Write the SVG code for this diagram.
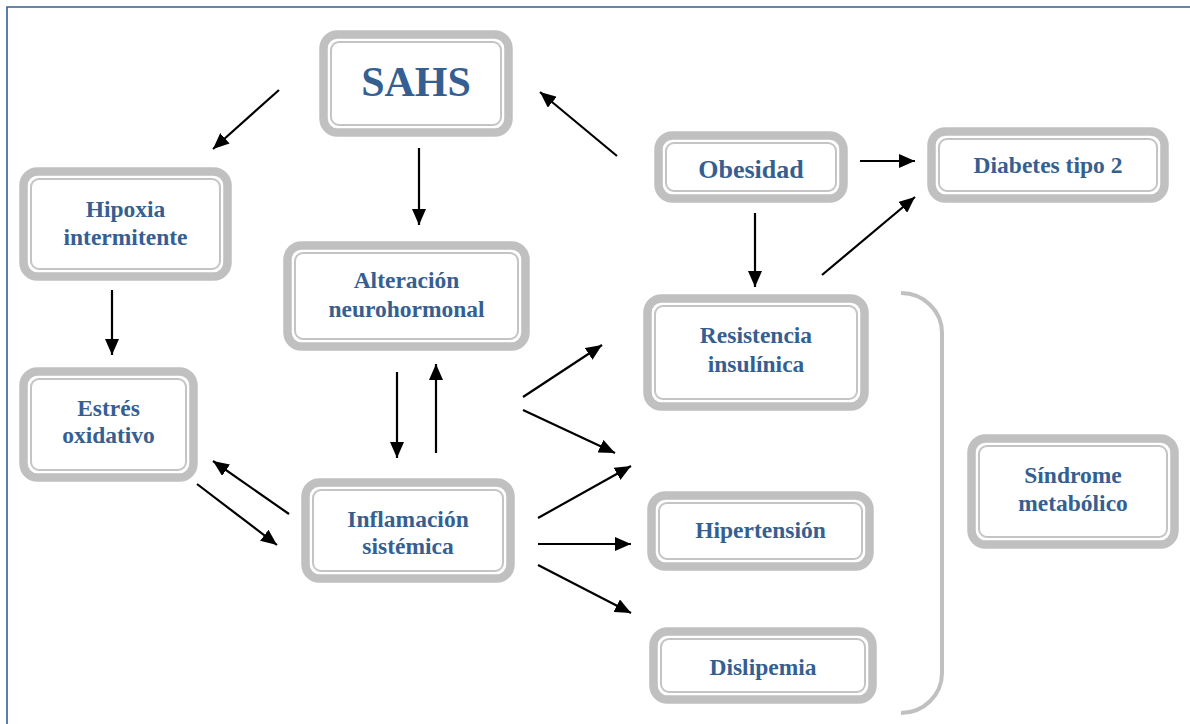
<svg xmlns="http://www.w3.org/2000/svg" width="1190" height="724" viewBox="0 0 1190 724">
<style>
.o{fill:#fff;stroke:#c0c0c0;stroke-width:8.5}
.i{fill:none;stroke:#c4c4c4;stroke-width:2}
.t{font-family:"Liberation Serif","Times New Roman",serif;font-weight:bold;fill:#365f91;text-anchor:middle;font-size:23.5px}
.c line{stroke:#000;stroke-width:2.2;marker-end:url(#ah)}
</style>
<defs>
<marker id="ah" markerUnits="userSpaceOnUse" markerWidth="16" markerHeight="14" refX="16" refY="7" orient="auto">
<path d="M0,0 L16,7 L0,14 z" fill="#000"/>
</marker>
</defs>
<rect width="1190" height="724" fill="#fff"/>
<path d="M7,724 V7 H1190" fill="none" stroke="#365f91" stroke-width="1.6"/>
<path d="M901,293 A41,40 0 0 1 942,333 V673 A41,40 0 0 1 901,713" fill="none" stroke="#c0c0c0" stroke-width="4"/>

<g id="sahs"><rect class="o" x="323.5" y="34.5" width="185" height="98" rx="14"/><rect class="i" x="331" y="42" width="170" height="83" rx="8"/><text class="t" x="416" y="96" style="font-size:42px">SAHS</text></g>
<g id="hipoxia"><rect class="o" x="23.5" y="171.5" width="204" height="105" rx="14"/><rect class="i" x="31" y="179" width="189" height="90" rx="8"/><text class="t" x="125.5" y="217">Hipoxia</text><text class="t" x="125.5" y="245">intermitente</text></g>
<g id="estres"><rect class="o" x="23.5" y="371.5" width="170" height="106" rx="14"/><rect class="i" x="31" y="379" width="155" height="91" rx="8"/><text class="t" x="108.5" y="416">Estrés</text><text class="t" x="108.5" y="443">oxidativo</text></g>
<g id="alteracion"><rect class="o" x="287.5" y="245.5" width="238" height="101" rx="14"/><rect class="i" x="295" y="253" width="223" height="86" rx="8"/><text class="t" x="406.5" y="288">Alteración</text><text class="t" x="406.5" y="317">neurohormonal</text></g>
<g id="inflamacion"><rect class="o" x="305.5" y="482.5" width="205" height="96" rx="14"/><rect class="i" x="313" y="490" width="190" height="81" rx="8"/><text class="t" x="408" y="527">Inflamación</text><text class="t" x="408" y="554">sistémica</text></g>
<g id="obesidad"><rect class="o" x="658.5" y="135.5" width="185" height="63" rx="14"/><rect class="i" x="666" y="143" width="170" height="48" rx="8"/><text class="t" x="751" y="178" style="font-size:26px">Obesidad</text></g>
<g id="resistencia"><rect class="o" x="647.5" y="298.5" width="217" height="108" rx="14"/><rect class="i" x="655" y="306" width="202" height="93" rx="8"/><text class="t" x="756" y="343">Resistencia</text><text class="t" x="756" y="372">insulínica</text></g>
<g id="diabetes"><rect class="o" x="931.5" y="131.5" width="233" height="67" rx="14"/><rect class="i" x="939" y="139" width="218" height="52" rx="8"/><text class="t" x="1048" y="173">Diabetes tipo 2</text></g>
<g id="hipertension"><rect class="o" x="651.5" y="495.5" width="218" height="71" rx="14"/><rect class="i" x="659" y="503" width="203" height="56" rx="8"/><text class="t" x="760.5" y="538">Hipertensión</text></g>
<g id="dislipemia"><rect class="o" x="653.5" y="631.5" width="219" height="68" rx="14"/><rect class="i" x="661" y="639" width="204" height="53" rx="8"/><text class="t" x="763" y="675">Dislipemia</text></g>
<g id="sindrome"><rect class="o" x="971.5" y="438.5" width="203" height="106" rx="14"/><rect class="i" x="979" y="446" width="188" height="91" rx="8"/><text class="t" x="1073" y="483">Síndrome</text><text class="t" x="1073" y="511">metabólico</text></g>

<g id="connectors" class="c">
<line x1="279" y1="90" x2="213" y2="149"/>
<line x1="419" y1="148" x2="419" y2="225"/>
<line x1="617" y1="156" x2="540" y2="92"/>
<line x1="112" y1="290" x2="112" y2="355"/>
<line x1="397" y1="372" x2="397" y2="458"/>
<line x1="436" y1="453" x2="436" y2="364"/>
<line x1="289" y1="514" x2="213" y2="461"/>
<line x1="197" y1="484" x2="277" y2="545"/>
<line x1="755" y1="213" x2="755" y2="287"/>
<line x1="860" y1="161" x2="915" y2="161"/>
<line x1="822" y1="275" x2="915" y2="197"/>
<line x1="523" y1="397" x2="602" y2="345"/>
<line x1="523" y1="410" x2="615" y2="453"/>
<line x1="538" y1="518" x2="631" y2="466"/>
<line x1="538" y1="544" x2="631" y2="544"/>
<line x1="538" y1="565" x2="631" y2="613"/>
</g>
</svg>
